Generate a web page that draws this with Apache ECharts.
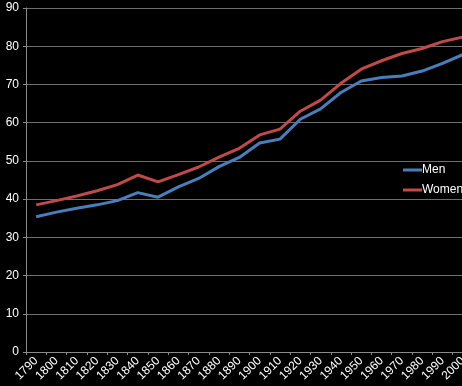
<!DOCTYPE html>
<html><head><meta charset="utf-8">
<script src="https://cdn.jsdelivr.net/npm/echarts@6/dist/echarts.min.js"></script>
<style>html,body{margin:0;padding:0;background:#000;}#c{width:462px;height:386px;}</style>
</head><body><div id="c"></div>
<script>
const years = ['1790','1800','1810','1820','1830','1840','1850','1860','1870','1880','1890','1900','1910','1920','1930','1940','1950','1960','1970','1980','1990','2000'];
const men = [35.4,36.6,37.6,38.5,39.6,41.7,40.5,43.2,45.4,48.5,50.9,54.7,55.7,60.9,63.6,67.9,70.9,71.8,72.2,73.5,75.5,77.8];
const women = [38.5,39.6,40.8,42.2,43.8,46.3,44.5,46.4,48.4,51.0,53.3,56.8,58.3,63.0,65.9,70.3,74.0,76.2,78.1,79.4,81.2,82.4];
const yTicks = {min:0, max:90, interval:10};
const chart = echarts.init(document.getElementById('c'));
const font = 'Liberation Sans, Arial, sans-serif';
chart.setOption({
  backgroundColor:'#000',
  animation:false,
  grid:{left:26, top:8, width:447, height:344, outerBoundsMode:'none', containLabel:false},
  legend:{
    orient:'vertical', left:403, top:164, itemGap:8, itemWidth:19, itemHeight:3, padding:0,
    icon:'rect',
    textStyle:{color:'#fff', fontSize:12, fontFamily:font, padding:[0,0,0,-5]},
    data:['Men','Women']
  },
  xAxis:{
    type:'category', data:years, boundaryGap:true,
    axisLine:{lineStyle:{color:'#8a8a8a', width:1}},
    axisTick:{show:true, length:3, lineStyle:{color:'#8a8a8a'}},
    axisLabel:{color:'#fff', fontSize:12, fontFamily:font, rotate:45, margin:7, interval:0, hideOverlap:false}
  },
  yAxis:{
    type:'value', min:yTicks.min, max:yTicks.max, interval:yTicks.interval,
    axisLine:{show:true, lineStyle:{color:'#8a8a8a', width:1}},
    axisTick:{show:true, length:3, lineStyle:{color:'#8a8a8a'}},
    splitLine:{lineStyle:{color:'#6e6e6e', width:1}},
    axisLabel:{color:'#fff', fontSize:12, fontFamily:font, margin:7}
  },
  series:[
    {name:'Men', type:'line', data:men, showSymbol:false, symbol:'none', lineStyle:{color:'#4a7ebb', width:3}, itemStyle:{color:'#4a7ebb'}},
    {name:'Women', type:'line', data:women, showSymbol:false, symbol:'none', lineStyle:{color:'#be4b48', width:3}, itemStyle:{color:'#be4b48'}}
  ]
});
</script></body></html>
